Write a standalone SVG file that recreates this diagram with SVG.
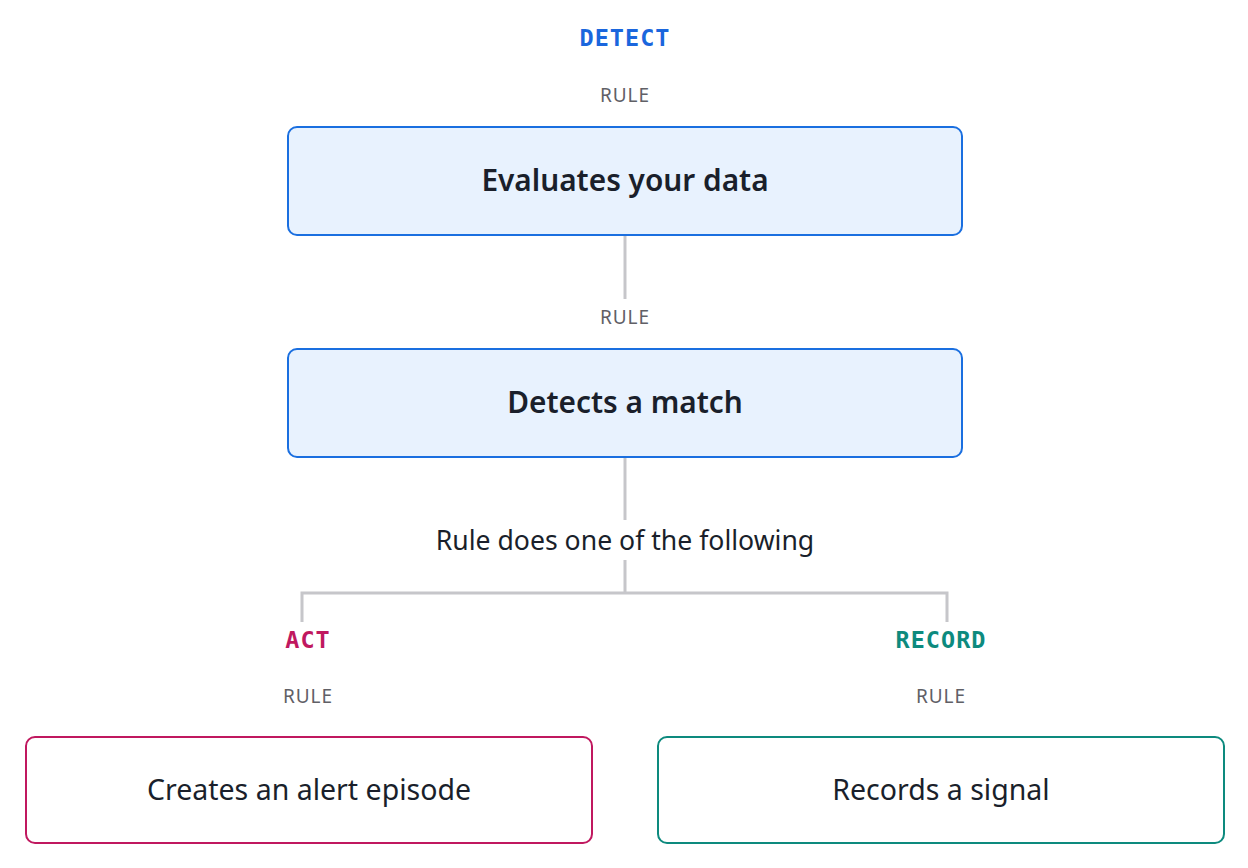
<svg xmlns="http://www.w3.org/2000/svg" width="1248" height="868" viewBox="0 0 1248 868">
<style>
.t{font-family:"Noto Sans","Liberation Sans",sans-serif;text-anchor:middle;fill:#1a1f2b}
.b{font-size:29.8px;font-weight:600}
.r{font-size:28.5px}
.rule{font-family:"Noto Sans","Liberation Sans",sans-serif;font-size:19px;fill:#606066;text-anchor:middle;letter-spacing:1px}
.m{font-family:"DejaVu Sans Mono","Liberation Mono",monospace;font-size:23.5px;font-weight:bold;text-anchor:middle;letter-spacing:1px}
.c{stroke:#c6c6ca;stroke-width:3;fill:none}
</style>
<rect width="1248" height="868" fill="#fff"/>
<text class="m" x="625" y="46" fill="#1a66dd">DETECT</text>
<text class="rule" x="625" y="102">RULE</text>
<g id="connectors">
<path class="c" d="M625 235V299"/>
<path class="c" d="M625 457V520"/>
<path class="c" d="M625 560V593M302 622V593H947V622"/>
</g>
<g id="evaluate">
<rect x="288" y="127" width="674" height="108" rx="9" fill="#e8f2fe" stroke="#1a6fe0" stroke-width="2"/>
<text class="t b" x="625" y="191">Evaluates your data</text>
</g>
<text class="rule" x="625" y="324">RULE</text>
<g id="detect">
<rect x="288" y="349" width="674" height="108" rx="9" fill="#e8f2fe" stroke="#1a6fe0" stroke-width="2"/>
<text class="t b" x="625" y="413">Detects a match</text>
</g>
<text class="t" x="625" y="550" font-size="26.6">Rule does one of the following</text>
<text class="m" x="308" y="648" fill="#c0185f">ACT</text>
<text class="rule" x="308" y="703">RULE</text>
<text class="m" x="941" y="648" fill="#0d8a7e">RECORD</text>
<text class="rule" x="941" y="703">RULE</text>
<g id="act">
<rect x="26" y="737" width="566" height="106" rx="9" fill="#fff" stroke="#c0185f" stroke-width="2"/>
<text class="t r" x="309" y="800">Creates an alert episode</text>
</g>
<g id="record">
<rect x="658" y="737" width="566" height="106" rx="9" fill="#fff" stroke="#0d8a7e" stroke-width="2"/>
<text class="t r" x="941" y="800">Records a signal</text>
</g>
</svg>
